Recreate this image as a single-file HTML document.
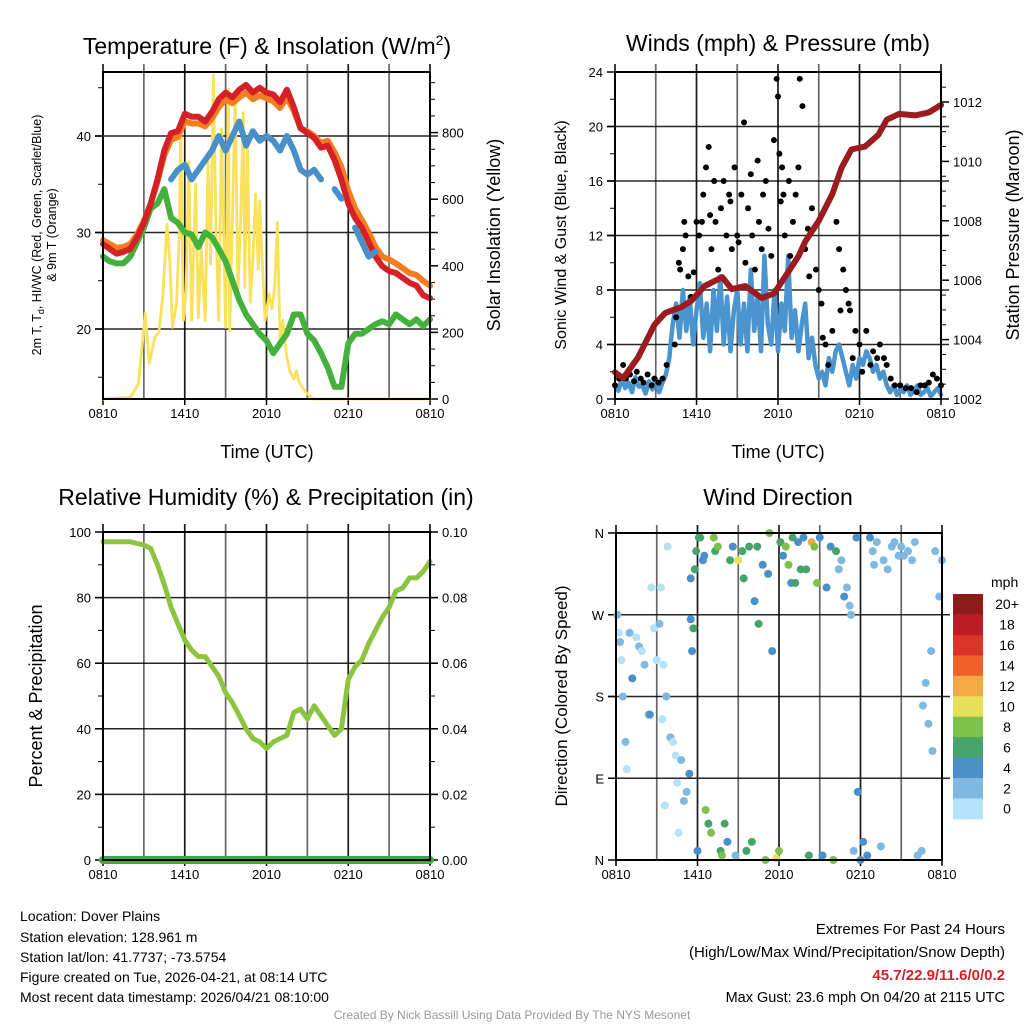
<!DOCTYPE html>
<html><head><meta charset="utf-8"><style>
body{margin:0;background:#fff;}
svg{display:block;font-family:"Liberation Sans",Arial,sans-serif;}
</style></head><body>
<svg id="chart" width="1024" height="1024" viewBox="0 0 1024 1024" xmlns="http://www.w3.org/2000/svg">
<rect width="1024" height="1024" fill="#fff"/>
<g id="g1"></g>
<g id="g2"></g>
<g id="g3"></g>
<g id="g4"></g>
<text x="267" y="54" font-size="23" text-anchor="middle">Temperature (F) &amp; Insolation (W/m<tspan font-size="14" dy="-9">2</tspan><tspan dy="9">)</tspan></text>
<text x="778" y="51" font-size="23" text-anchor="middle">Winds (mph) &amp; Pressure (mb)</text>
<text x="266" y="505" font-size="23" text-anchor="middle">Relative Humidity (%) &amp; Precipitation (in)</text>
<text x="778" y="505" font-size="23" text-anchor="middle">Wind Direction</text>
<text x="267" y="458" font-size="18" text-anchor="middle">Time (UTC)</text>
<text x="778" y="458" font-size="18" text-anchor="middle">Time (UTC)</text>
<text transform="translate(41,235) rotate(-90)" font-size="12.5" text-anchor="middle">2m T, T<tspan font-size="9" dy="3">d</tspan><tspan dy="-3">, HI/WC (Red, Green, Scarlet/Blue)</tspan></text>
<text transform="translate(56,235) rotate(-90)" font-size="12.5" text-anchor="middle">&amp; 9m T (Orange)</text>
<text transform="translate(500,235) rotate(-90)" font-size="18" text-anchor="middle">Solar Insolation (Yellow)</text>
<text transform="translate(566,235) rotate(-90)" font-size="16" text-anchor="middle">Sonic Wind &amp; Gust (Blue, Black)</text>
<text transform="translate(1019,235) rotate(-90)" font-size="18" text-anchor="middle">Station Pressure (Maroon)</text>
<text transform="translate(42,696) rotate(-90)" font-size="18" text-anchor="middle">Percent &amp; Precipitation</text>
<text transform="translate(567,696) rotate(-90)" font-size="17" text-anchor="middle">Direction (Colored By Speed)</text>
<g font-size="14">
<text x="20" y="921">Location: Dover Plains</text>
<text x="20" y="942">Station elevation: 128.961 m</text>
<text x="20" y="962">Station lat/lon: 41.7737; -73.5754</text>
<text x="20" y="982">Figure created on Tue, 2026-04-21, at 08:14 UTC</text>
<text x="20" y="1002">Most recent data timestamp: 2026/04/21 08:10:00</text>
</g>
<g font-size="15" text-anchor="end">
<text x="1005" y="934">Extremes For Past 24 Hours</text>
<text x="1005" y="957">(High/Low/Max Wind/Precipitation/Snow Depth)</text>
<text x="1005" y="980" fill="#d62027" font-weight="bold">45.7/22.9/11.6/0/0.2</text>
<text x="1005" y="1002" font-size="14.5">Max Gust: 23.6 mph On 04/20 at 2115 UTC</text>
</g>
<text x="512" y="1019" font-size="12" fill="#999" text-anchor="middle">Created By Nick Bassill Using Data Provided By The NYS Mesonet</text>
</svg>
<script>
const xTickLabels=["0810","1410","2010","0210","0810"];
const halfHours=[];for(let i=0;i<=48;i++)halfHours.push(i/2);
const quarterHours=[];for(let i=0;i<=96;i++)quarterHours.push(i/4);
const tempRed=[28.8,28.3,27.8,28.0,28.3,29.5,31.0,33.0,35.5,38.5,40.3,40.5,42.3,42.0,42.0,41.5,42.5,43.8,44.5,44.0,44.8,45.3,44.5,45.0,44.5,44.3,43.5,44.8,43.0,40.8,40.3,39.8,38.8,39.0,37.5,35.5,33.0,31.5,30.5,29.0,27.5,26.5,26.0,25.8,25.3,24.8,24.5,23.5,23.2];
const temp9m=[29.2,28.8,28.4,28.5,28.8,29.8,31.2,33.0,35.3,38.0,39.6,39.9,41.5,41.3,41.3,41.0,41.8,43.0,43.8,43.4,44.0,44.5,43.8,44.2,43.9,43.6,42.9,44.0,42.6,40.8,40.5,40.0,39.3,39.5,38.3,36.8,34.3,32.5,31.3,30.0,28.5,27.5,27.2,26.8,26.3,25.8,25.6,25.0,24.5];
const heatIndex=[null,null,null,null,null,null,null,null,null,null,35.5,36.5,37.0,35.5,36.5,37.5,38.5,40.0,38.5,40.0,41.5,39.0,40.5,39.5,40.0,39.5,38.5,40.0,38.5,36.5,36.0,36.5,35.5,null,34.5,33.5,null,30.5,29.0,27.5,28.0,null,null,null,null,null,null,null,null];
const dewPoint=[27.5,27.0,26.8,26.8,27.5,29.0,30.5,32.5,33.0,34.5,31.5,31.0,30.0,29.8,28.5,30.0,29.5,28.3,27.0,25.0,23.0,21.5,20.5,19.5,18.8,17.5,18.5,19.5,21.5,21.5,19.5,18.8,17.5,16.0,14.0,14.0,18.5,19.5,19.5,20.0,20.5,20.8,20.5,21.5,21.0,20.5,21.0,20.3,21.0];
const insolTimes=[0,2.0,2.6,3.1,3.4,3.8,4.1,4.4,4.7,4.9,5.1,5.4,5.6,5.7,5.9,6.1,6.3,6.5,6.8,7.0,7.2,7.5,7.7,7.9,8.1,8.3,8.5,8.7,9.0,9.2,9.3,9.5,9.7,9.9,10.1,10.3,10.4,10.6,10.8,11.0,11.2,11.4,11.5,11.7,11.9,12.2,12.4,12.6,12.8,13.0,13.2,13.5,13.7,14.0,14.2,14.4,14.8,15.4,24];
const insolVals=[0,5,45,257,107,185,200,316,525,415,215,286,498,812,236,325,713,236,645,243,454,236,713,405,973,498,236,812,215,931,204,540,920,316,530,860,335,770,290,420,616,390,594,400,236,316,270,335,530,170,236,125,85,60,85,50,25,0,0];
const windSpeed=[1.0,0.6,1.5,0.8,1.2,0.5,1.6,0.9,1.0,0.4,1.3,0.7,1.5,0.5,1.2,1.8,3.0,
5.5,7.0,4.5,8.0,5.0,7.5,4.0,6.5,8.5,4.5,7.0,3.5,8.0,5.0,9.0,4.0,7.5,3.5,6.5,8.0,4.0,7.0,3.5,9.5,5.0,7.5,3.5,10.5,5.5,4.0,8.0,3.5,7.0,5.0,10.5,4.5,6.5,3.5,5.5,7.0,3.0,4.5,2.5,
1.5,2.0,1.0,3.0,2.0,3.5,4.0,3.0,2.0,1.0,2.5,1.5,3.0,2.5,3.5,3.0,2.0,2.5,1.5,2.0,1.0,0.5,1.0,0.3,0.8,0.5,1.0,0.3,0.6,1.0,0.3,0.5,0.8,0.2,0.5,0.8,0.3];
const gustTimes=[0,0.3,0.6,0.8,1.1,1.4,1.6,1.9,2.1,2.4,2.7,2.9,3.2,3.5,3.8,4.4,4.5,4.7,4.8,5.0,5.1,5.2,5.4,5.6,5.8,6.0,6.2,6.4,6.5,6.7,6.9,7.0,7.1,7.3,7.4,7.6,7.8,8.0,8.2,8.4,8.5,8.6,8.8,9.0,9.1,9.3,9.5,9.6,9.8,10.0,10.1,10.3,10.5,10.6,10.8,10.9,11.1,11.3,11.5,11.7,11.9,12.0,12.1,12.2,12.3,12.4,12.5,12.8,12.9,13.1,13.3,13.5,13.6,13.8,14.0,14.2,14.3,14.5,14.8,15.0,15.2,15.3,15.5,15.7,16.0,16.3,16.5,16.6,16.8,17.0,17.2,17.3,17.5,17.7,18.0,18.2,18.5,18.8,19.0,19.3,19.5,19.8,20.0,20.3,20.6,21.0,21.4,21.8,22.2,22.5,22.8,23.1,23.4,23.7,24];
const gustVals=[1.0,1.5,2.5,1.5,1.8,1.3,2.0,1.5,1.2,1.8,1.0,1.5,1.2,1.5,2.5,4,6,10,9.5,11,13,12,9.0,7.5,9.3,13,12,13,15,17,18.5,13.5,11,16,13,9.5,14,16,12,15,14.5,11,17,12,11.5,15,20.3,10,14,16.5,12,9.5,17.5,13,11,15,16,12.5,10.5,19,23.5,22.2,18,14.5,17,15,12,16,10.5,13,15,17,23.5,21.5,11,12.5,9,14,9.5,8,7,4.5,4,2.5,5,13,11,6.5,9.5,8,7,6.5,3,5,4,2,5,2.5,3.5,3,4,3,2.5,1.5,1,1,0.8,0.8,0.5,1,1,1.2,1.8,1.5,1];
const pressTimes=[0,0.6,1.7,2.9,3.7,4.9,5.6,6.6,7.9,8.6,9.6,10.8,11.7,12.5,13.5,14.0,15.0,16.0,16.7,17.4,18.4,19.4,20.0,20.9,22.1,23.1,24];
const pressVals=[1002.9,1002.7,1003.4,1004.5,1004.9,1005.1,1005.3,1005.8,1006.1,1005.7,1005.8,1005.4,1005.55,1006.1,1006.8,1007.3,1008.0,1008.9,1009.8,1010.4,1010.5,1010.9,1011.4,1011.6,1011.55,1011.65,1011.9];
const relHum=[97,97,97,97,97,96.5,96,95,90,84,77,72,67,64,62,62,59,56,51,48,44,40,37,36,34,36,37,38,45,46,43,47,44,41,38,40,55,59,61,66,70,74,77,82,83,86,86,88,91];
const precip=[0,0];
const dirTimes=[0.1,0.2,0.3,0.4,0.5,0.7,0.8,1.0,1.2,1.5,1.7,1.9,2.1,2.4,2.5,2.6,2.8,3.0,3.2,3.3,3.5,3.4,3.6,3.8,3.7,4.0,4.2,4.4,4.5,4.6,4.8,5.0,5.2,5.4,5.5,5.6,5.5,5.7,5.8,5.9,6.0,6.1,6.2,6.4,6.5,6.6,6.8,7.0,7.2,7.3,7.5,7.7,7.8,8.0,8.2,8.4,8.6,8.8,9.0,9.3,9.4,9.6,9.8,10.0,10.2,10.4,10.5,10.8,11.0,11.2,11.3,11.5,11.8,12.0,12.1,12.3,12.5,12.7,12.9,13.0,13.2,13.4,13.6,13.8,14.0,14.2,14.4,14.6,14.8,15.0,15.2,15.5,15.8,16.0,16.2,16.4,16.6,16.8,17.0,17.2,17.3,17.5,17.7,17.8,18.0,18.2,18.5,18.7,18.9,19.0,19.2,19.5,19.7,20.0,20.3,20.5,20.8,21.0,21.5,22.0,22.2,22.5,22.8,23.0,23.2,23.5,23.8,24.0,21.2,21.8,23.3,22.6];
const dirDegs=[270,250,240,220,180,130,100,250,200,245,235,230,215,160,160,300,255,220,260,300,215,155,60,345,180,135,130,115,85,30,110,65,75,95,310,230,265,255,320,340,10,355,355,330,335,55,40,30,355,340,345,10,5,40,20,330,345,5,330,340,310,10,345,20,285,345,260,325,0,315,360,230,2,10,350,335,345,325,305,355,305,350,320,355,320,5,350,345,305,355,5,300,345,0,340,320,330,290,300,280,270,10,355,75,0,20,5,355,340,325,350,15,330,320,345,350,335,345,340,350,5,10,195,150,230,340,290,330,335,330,120,170];
const dirSpeeds=[1,0.5,1,0.5,1,1,0.5,1,4,0.5,1,0.5,1,1,3,0.5,0.5,0.5,1,0.5,0.5,0.5,0.5,0.5,1,1,0.5,0.5,0.5,0.5,2,1,2,3,3,4,4,6,5,6,4,5,6,4,4,8,6,8,7,6,8,5,8,6,4,6,4,2,10,5,5,5,6,6,4,6,6,4,8,4,8,4,10,8,6,4,8,8,4,6,6,4,6,4,6,6,12,8,8,4,4,4,4,8,5,1,1,4,2,2,1,2,4,4,4,4,4,4,2,1,2,2,2,2,2,2,2,2,2,1,1,1,1,1,1,1,1,1,2,2,1,1];
const speedColors=["#b4e2f8","#7db9e3","#4a8fc7","#46a46a","#7cc14a","#e7e05a","#f5a944","#ef6129","#dc3328","#bd1d26","#8f1a1c"];
const speedLabels=["0","2","4","6","8","10","12","14","16","18","20+"];

const NS="http://www.w3.org/2000/svg";
function mk(parent,tag,attrs){const e=document.createElementNS(NS,tag);for(const k in attrs)e.setAttribute(k,attrs[k]);parent.appendChild(e);return e;}
function scale(d0,d1,r0,r1){return v=>r0+(v-d0)*(r1-r0)/(d1-d0);}
function pathFrom(xs,ys,fx,fy){let d="",pen=false;for(let i=0;i<xs.length;i++){if(ys[i]==null){pen=false;continue;}d+=(pen?"L":"M")+fx(xs[i]).toFixed(1)+","+fy(ys[i]).toFixed(1);pen=true;}return d;}

function frame(g,P){
  const fx=scale(0,24,P.x0,P.x1);
  for(let h=0;h<=24;h+=3){
    const l=mk(g,"line",{x1:fx(h),x2:fx(h),y1:P.y0-8,y2:P.y1,stroke:"#000","stroke-opacity":h%6==0?0.9:0.6,"stroke-width":1.7});
    
    
  }
  xTickLabels.forEach((s,i)=>{
    const t=mk(g,"text",{x:fx(i*6),y:P.y1+19,"font-size":13,"text-anchor":"middle"});t.textContent=s;
    
    
    mk(g,"line",{x1:fx(i*6),x2:fx(i*6),y1:P.y1,y2:P.y1+6,stroke:"#000","stroke-width":1.5});
  });
  return fx;
}
function hgrid(g,P,fy,vals){vals.forEach(v=>{const l=mk(g,"line",{x1:P.x0-8,x2:P.x1+8,y1:fy(v),y2:fy(v),stroke:"#000","stroke-opacity":0.85,"stroke-width":1.5});
  
  });}
function yTicks(g,P,fy,vals,labels,side,minor){
  const x=side=="l"?P.x0:P.x1, dir=side=="l"?-1:1;
  vals.forEach((v,i)=>{mk(g,"line",{x1:x,x2:x+dir*8,y1:fy(v),y2:fy(v),stroke:"#000","stroke-width":1.5});
    const t=mk(g,"text",{x:x+dir*12,y:fy(v)+5,"font-size":13,"text-anchor":side=="l"?"end":"start"});t.textContent=labels[i];
    
    });
  (minor||[]).forEach(v=>mk(g,"line",{x1:x,x2:x+dir*5,y1:fy(v),y2:fy(v),stroke:"#000","stroke-width":1}));
}
function box(g,P){const r=mk(g,"rect",{x:P.x0,y:P.y0,width:P.x1-P.x0,height:P.y1-P.y0,fill:"none",stroke:"#000","stroke-width":2});
  
  }
function line(g,d,color,w,name){const p=mk(g,"path",{d:d,fill:"none",stroke:color,"stroke-width":w,"stroke-linejoin":"round","stroke-linecap":"round"});
  
  return p;}

// Panel 1
(function(){
  const g=document.getElementById("g1"),P={x0:103,x1:430,y0:72,y1:399};
  const fx=frame(g,P);
  const fy=scale(20,40,329,136), fi=scale(0,1000,399,66);
  hgrid(g,P,fy,[20,30,40]);
  yTicks(g,P,fy,[20,30,40],["20","30","40"],"l",[15,25,35,45]);
  yTicks(g,P,fi,[0,200,400,600,800],["0","200","400","600","800"],"r",[50,100,150,250,300,350,450,500,550,650,700,750,850,900,950]);
  line(g,pathFrom(insolTimes,insolVals,fx,fi),"#fae15c",2.8,"insolation-line");
  line(g,pathFrom(halfHours,dewPoint,fx,fy),"#44b03e",6,"dewpoint-line");
  line(g,pathFrom(halfHours,temp9m,fx,fy),"#f47d20",6,"temp-9m-line");
  line(g,pathFrom(halfHours,tempRed,fx,fy),"#d62027",6,"temp-2m-line");
  line(g,pathFrom(halfHours,heatIndex,fx,fy),"#4a90c8",6,"heat-index-line");
  box(g,P);
})();
// Panel 2
(function(){
  const g=document.getElementById("g2"),P={x0:615,x1:941,y0:72,y1:399};
  const fx=frame(g,P);
  const fy=scale(0,24,399,72), fp=scale(1002,1012,399,102);
  hgrid(g,P,fy,[4,8,12,16,20]);
  yTicks(g,P,fy,[0,4,8,12,16,20,24],["0","4","8","12","16","20","24"],"l",[2,6,10,14,18,22]);
  yTicks(g,P,fp,[1002,1004,1006,1008,1010,1012],["1002","1004","1006","1008","1010","1012"],"r",[1002.5,1003,1003.5,1004.5,1005,1005.5,1006.5,1007,1007.5,1008.5,1009,1009.5,1010.5,1011,1011.5,1012.5]);
  line(g,pathFrom(quarterHours,windSpeed,fx,fy),"#4a95d0",4.5,"wind-speed-line");
  gustTimes.forEach((t,i)=>{const c=mk(g,"circle",{cx:fx(t),cy:fy(gustVals[i]),r:3,fill:"#000"});
    
    });
  line(g,pathFrom(pressTimes,pressVals,fx,fp),"#9b1b1e",6,"pressure-line");
  box(g,P);
})();
// Panel 3
(function(){
  const g=document.getElementById("g3"),P={x0:103,x1:430,y0:532,y1:860};
  const fx=frame(g,P);
  const fy=scale(0,100,860,532), fr=scale(0,0.1,860,532);
  hgrid(g,P,fy,[20,40,60,80]);
  yTicks(g,P,fy,[0,20,40,60,80,100],["0","20","40","60","80","100"],"l",[10,30,50,70,90]);
  yTicks(g,P,fr,[0,0.02,0.04,0.06,0.08,0.1],["0.00","0.02","0.04","0.06","0.08","0.10"],"r",[0.01,0.03,0.05,0.07,0.09]);
  line(g,pathFrom(halfHours,relHum,fx,fy),"#8cc43f",5,"humidity-line");
  line(g,pathFrom([0,24],precip,fx,fr),"#3daa45",8,"precip-line");
  box(g,P);
})();
// Panel 4
(function(){
  const g=document.getElementById("g4"),P={x0:616,x1:942,y0:533,y1:860};
  const fx=frame(g,P);
  const fy=scale(0,360,860,533);
  hgrid(g,P,fy,[90,180,270]);
  yTicks(g,P,fy,[0,90,180,270,360],["N","E","S","W","N"],"l",[]);
  dirTimes.forEach((t,i)=>{const k=Math.min(10,Math.round(dirSpeeds[i]/2));
    const c=mk(g,"circle",{cx:fx(t),cy:fy(dirDegs[i]),r:4,fill:speedColors[k]});
    
    });
  box(g,P);
  const lg=mk(g,"g",{});
  
  
  const t=mk(lg,"text",{x:991,y:587,"font-size":14,"text-anchor":"start"});t.textContent="mph";
  const bh=20.45;
  for(let i=0;i<11;i++){const k=10-i,y=594+i*bh;
    mk(lg,"rect",{x:953,y:y,width:30,height:bh+0.5,fill:speedColors[k]});
    const l=mk(lg,"text",{x:1007,y:y+bh/2+5,"font-size":14,"text-anchor":"middle"});l.textContent=speedLabels[k];}
})();
</script>
</body></html>
